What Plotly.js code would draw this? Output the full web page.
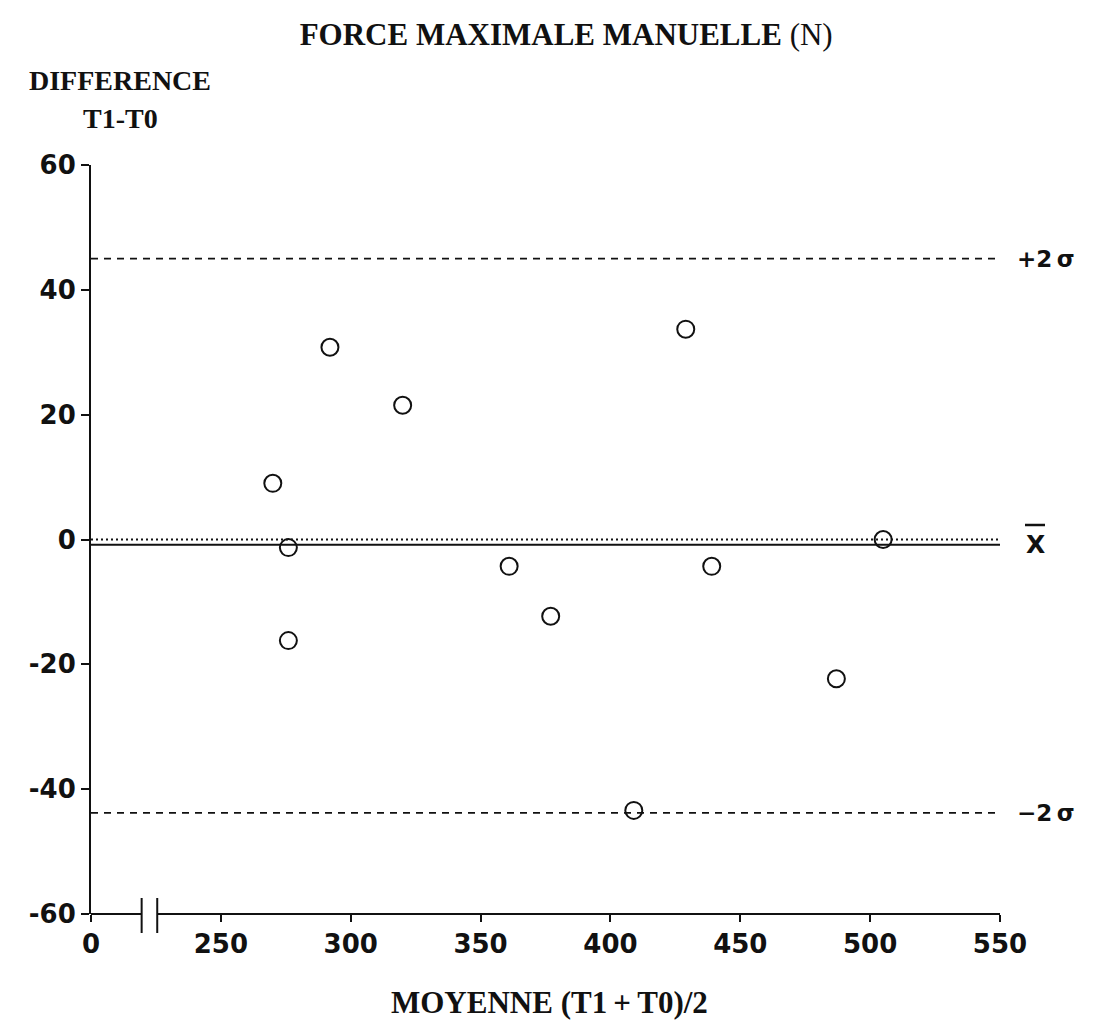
<!DOCTYPE html>
<html>
<head>
<meta charset="utf-8">
<script src="https://cdn.plot.ly/plotly-3.0.1.min.js"></script>
<style>html,body{margin:0;padding:0;background:#fff;}#chart{width:1100px;height:1025px;}</style>
</head>
<body>
<div id="chart"></div>
<script>
// ---- data ----
var meanValues = [270, 276, 276, 292, 320, 361, 377, 409, 429, 439, 487, 505];   // (T1+T0)/2
var diffValues = [9, -1.3, -16.2, 30.8, 21.5, -4.3, -12.3, -43.4, 33.7, -4.3, -22.3, 0]; // T1-T0
var xTickVals = [200, 250, 300, 350, 400, 450, 500, 550];
var xTickText = ["0", "250", "300", "350", "400", "450", "500", "550"];
var yTickVals = [-60, -40, -20, 0, 20, 40, 60];
var yTickText = ["-60", "-40", "-20", "0", "20", "40", "60"];
var plus2Sigma = 45;
var minus2Sigma = -43.8;
var meanDiff = -0.85;
var zeroRef = 0;
var xStart = 200, xEnd = 550;
var breakStart = 219.5, breakEnd = 225.5;

var lineX = [xStart, xEnd];
var traces = [
  {x: lineX, y: [plus2Sigma, plus2Sigma], mode: 'lines', line: {color: '#111', width: 1.6, dash: '7px,6px'}, hoverinfo: 'skip'},
  {x: lineX, y: [minus2Sigma, minus2Sigma], mode: 'lines', line: {color: '#111', width: 1.6, dash: '7px,6px'}, hoverinfo: 'skip'},
  {x: lineX, y: [zeroRef, zeroRef], mode: 'lines', line: {color: '#111', width: 2, dash: '2px,3px'}, hoverinfo: 'skip'},
  {x: lineX, y: [meanDiff, meanDiff], mode: 'lines', line: {color: '#111', width: 2}, hoverinfo: 'skip'},
  {x: meanValues, y: diffValues, mode: 'markers', marker: {symbol: 'circle-open', size: 17, color: '#111', line: {width: 2, color: '#111'}}}
];

var tickFont = {family: 'DejaVu Sans', size: 26, color: '#111', weight: 'bold'};
var serifBold = {family: 'Liberation Serif', size: 31, color: '#111', weight: 'bold'};
var ytitleFont = {family: 'Liberation Serif', size: 28, color: '#111', weight: 'bold'};
var sideFont = {family: 'DejaVu Sans', size: 23, color: '#111', weight: 'bold'};

var layout = {
  width: 1100, height: 1025,
  margin: {l: 91, r: 100, t: 165, b: 111},
  paper_bgcolor: '#fff', plot_bgcolor: '#fff',
  showlegend: false,
  title: {
    text: "FORCE MAXIMALE MANUELLE <span style='font-weight:normal'>(N)</span>",
    font: serifBold, x: 575/1100, xanchor: 'center', xref: 'paper', y: 1 - 34/1025, yanchor: 'middle', yref: 'container'
  },
  xaxis: {
    range: [xStart, xEnd], showgrid: false, zeroline: false, showline: false,
    tickvals: xTickVals, ticktext: xTickText, ticks: 'outside', ticklen: 7, tickwidth: 2, tickcolor: '#111',
    tickfont: tickFont
  },
  yaxis: {
    range: [-60, 60], showgrid: false, zeroline: false, showline: true, linecolor: '#111', linewidth: 2,
    tickvals: yTickVals, ticktext: yTickText, ticks: 'outside', ticklen: 8, tickwidth: 2, tickcolor: '#111',
    tickfont: tickFont
  },
  shapes: [
    {type: 'line', xref: 'x', yref: 'paper', x0: xStart, x1: breakStart, y0: 0, y1: 0, line: {color: '#111', width: 2}},
    {type: 'line', xref: 'x', yref: 'paper', x0: breakEnd, x1: xEnd, y0: 0, y1: 0, line: {color: '#111', width: 2}},
    {type: 'line', xref: 'x', yref: 'paper', x0: breakStart, x1: breakStart, y0: 16/749, y1: -19/749, line: {color: '#111', width: 2}},
    {type: 'line', xref: 'x', yref: 'paper', x0: breakEnd, x1: breakEnd, y0: 16/749, y1: -19/749, line: {color: '#111', width: 2}},
    // overbar of x-bar label
    {type: 'line', xref: 'paper', yref: 'paper', x0: (1025-91)/909, x1: (1045-91)/909, y0: (914-525)/749, y1: (914-525)/749, line: {color: '#111', width: 2.5}}
  ],
  annotations: [
    {text: 'DIFFERENCE', xref: 'paper', yref: 'paper', x: (120-91)/909, y: (914-81)/749, xanchor: 'center', yanchor: 'middle', showarrow: false, font: ytitleFont},
    {text: 'T1-T0', xref: 'paper', yref: 'paper', x: (120-91)/909, y: (914-119)/749, xanchor: 'center', yanchor: 'middle', showarrow: false, font: ytitleFont},
    {text: 'MOYENNE (T1\u2009+\u2009T0)/2', xref: 'paper', yref: 'paper', x: (549-91)/909, y: (914-1002)/749, xanchor: 'center', yanchor: 'middle', showarrow: false, font: serifBold},
    {text: '+2\u2009σ', xref: 'paper', yref: 'y', x: (1015-91)/909, y: plus2Sigma, xanchor: 'left', yanchor: 'middle', showarrow: false, font: sideFont},
    {text: '\u22122\u2009σ', xref: 'paper', yref: 'y', x: (1015-91)/909, y: minus2Sigma, xanchor: 'left', yanchor: 'middle', showarrow: false, font: sideFont},
    {text: 'X', xref: 'paper', yref: 'y', x: (1035-91)/909, y: meanDiff, xanchor: 'center', yanchor: 'middle', showarrow: false, font: {family: 'DejaVu Sans', size: 25, color: '#111', weight: 'bold'}}
  ]
};

Plotly.newPlot('chart', traces, layout, {displayModeBar: false, staticPlot: true});
</script>
</body>
</html>
